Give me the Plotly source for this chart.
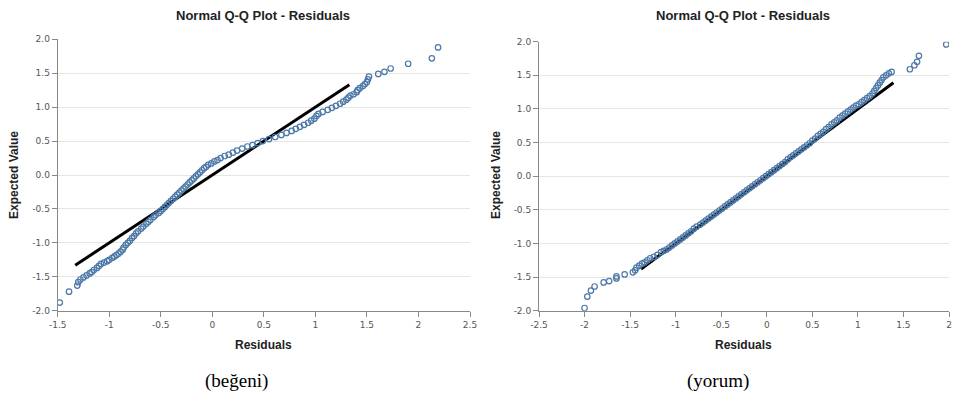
import plotly.graph_objects as go

# ---------------- data ----------------
left_resid = [-1.48, -1.39, -1.31, -1.30, -1.28, -1.25, -1.22, -1.19, -1.17, -1.15,
              -1.12, -1.10, -1.08, -1.05, -1.02, -1.00, -0.97, -0.95, -0.93, -0.91,
              -0.89, -0.87, -0.86, -0.84, -0.82, -0.80, -0.78, -0.76, -0.74, -0.72,
              -0.69, -0.67, -0.64, -0.62, -0.60, -0.57, -0.55, -0.52, -0.50, -0.48,
              -0.46, -0.44, -0.42, -0.40, -0.38, -0.36, -0.34, -0.32, -0.30, -0.28,
              -0.26, -0.24, -0.22, -0.20, -0.18, -0.16, -0.14, -0.12, -0.10, -0.08,
              -0.06, -0.04, -0.01, 0.02, 0.05, 0.08, 0.12, 0.16, 0.20, 0.24,
              0.29, 0.34, 0.39, 0.44, 0.49, 0.55, 0.61, 0.67, 0.72, 0.77,
              0.81, 0.85, 0.89, 0.93, 0.96, 0.99, 1.01, 1.03, 1.07, 1.12,
              1.16, 1.20, 1.24, 1.27, 1.30, 1.32, 1.34, 1.37, 1.40, 1.41,
              1.43, 1.46, 1.48, 1.50, 1.51, 1.52, 1.61, 1.67, 1.73, 1.90,
              2.13, 2.19]
left_expected = [-1.88, -1.72, -1.63, -1.58, -1.54, -1.51, -1.48, -1.45, -1.43, -1.40,
                 -1.37, -1.34, -1.31, -1.29, -1.27, -1.25, -1.22, -1.20, -1.18, -1.16,
                 -1.13, -1.10, -1.07, -1.03, -1.00, -0.97, -0.93, -0.90, -0.86, -0.83,
                 -0.79, -0.76, -0.72, -0.69, -0.66, -0.62, -0.59, -0.56, -0.53, -0.50,
                 -0.47, -0.44, -0.41, -0.38, -0.35, -0.32, -0.29, -0.26, -0.23, -0.20,
                 -0.17, -0.14, -0.11, -0.08, -0.05, -0.02, 0.01, 0.04, 0.07, 0.10,
                 0.12, 0.15, 0.17, 0.20, 0.22, 0.25, 0.28, 0.30, 0.33, 0.36,
                 0.39, 0.42, 0.44, 0.47, 0.50, 0.53, 0.56, 0.59, 0.62, 0.65,
                 0.68, 0.71, 0.74, 0.77, 0.80, 0.83, 0.87, 0.90, 0.93, 0.96,
                 0.99, 1.02, 1.05, 1.08, 1.11, 1.14, 1.17, 1.19, 1.22, 1.25,
                 1.28, 1.31, 1.34, 1.37, 1.41, 1.45, 1.49, 1.52, 1.57, 1.64,
                 1.72, 1.88]
left_ref_x = [-1.33, 1.33]
left_ref_y = [-1.33, 1.33]

right_resid = [-2.00, -1.97, -1.93, -1.89, -1.79, -1.73, -1.65, -1.65, -1.56, -1.47,
               -1.445, -1.43, -1.40, -1.37, -1.34, -1.31, -1.28, -1.24, -1.20, -1.16,
               -1.13, -1.10, -1.07, -1.04, -1.01, -0.98, -0.95, -0.92, -0.89, -0.86,
               -0.83, -0.80, -0.77, -0.73, -0.70, -0.67, -0.64, -0.61, -0.58, -0.55,
               -0.52, -0.49, -0.46, -0.43, -0.40, -0.37, -0.34, -0.31, -0.28, -0.25,
               -0.22, -0.19, -0.16, -0.13, -0.10, -0.07, -0.04, -0.01, 0.02, 0.05,
               0.08, 0.11, 0.14, 0.17, 0.20, 0.23, 0.26, 0.29, 0.32, 0.35,
               0.38, 0.41, 0.44, 0.47, 0.50, 0.53, 0.56, 0.59, 0.62, 0.65,
               0.68, 0.71, 0.74, 0.77, 0.80, 0.83, 0.86, 0.89, 0.92, 0.95,
               0.98, 1.01, 1.04, 1.07, 1.10, 1.13, 1.16, 1.18, 1.20, 1.22,
               1.24, 1.26, 1.28, 1.31, 1.34, 1.37, 1.57, 1.62, 1.65, 1.67,
               1.97]
right_expected = [-1.96, -1.79, -1.70, -1.64, -1.58, -1.56, -1.52, -1.49, -1.46, -1.43,
                  -1.40, -1.36, -1.33, -1.30, -1.28, -1.25, -1.22, -1.20, -1.17, -1.13,
                  -1.11, -1.09, -1.06, -1.03, -1.00, -0.97, -0.94, -0.91, -0.88, -0.85,
                  -0.82, -0.78, -0.75, -0.72, -0.69, -0.66, -0.63, -0.60, -0.57, -0.54,
                  -0.51, -0.48, -0.45, -0.42, -0.39, -0.36, -0.33, -0.30, -0.27, -0.24,
                  -0.21, -0.18, -0.15, -0.12, -0.09, -0.06, -0.03, 0.00, 0.03, 0.06,
                  0.09, 0.12, 0.15, 0.18, 0.21, 0.25, 0.28, 0.31, 0.34, 0.37,
                  0.40, 0.43, 0.46, 0.49, 0.53, 0.56, 0.60, 0.63, 0.66, 0.70,
                  0.73, 0.77, 0.80, 0.83, 0.87, 0.90, 0.93, 0.96, 0.99, 1.02,
                  1.05, 1.07, 1.10, 1.13, 1.16, 1.19, 1.23, 1.27, 1.31, 1.35,
                  1.39, 1.43, 1.47, 1.50, 1.53, 1.55, 1.59, 1.65, 1.70, 1.79,
                  1.96]
right_ref_x = [-1.38, 1.39]
right_ref_y = [-1.38, 1.39]

y_ticks = [-2.0, -1.5, -1.0, -0.5, 0.0, 0.5, 1.0, 1.5, 2.0]
y_tick_labels = ["-2.0", "-1.5", "-1.0", "-0.5", "0.0", "0.5", "1.0", "1.5", "2.0"]
left_x_ticks = [-1.5, -1, -0.5, 0, 0.5, 1, 1.5, 2, 2.5]
left_x_labels = ["-1.5", "-1", "-0.5", "0", "0.5", "1", "1.5", "2", "2.5"]
right_x_ticks = [-2.5, -2, -1.5, -1, -0.5, 0, 0.5, 1, 1.5, 2]
right_x_labels = ["-2.5", "-2", "-1.5", "-1", "-0.5", "0", "0.5", "1", "1.5", "2"]

title_text = "Normal Q-Q Plot - Residuals"
x_title = "Residuals"
y_title = "Expected Value"
captions = ["(beğeni)", "(yorum)"]

# ---------------- figure ----------------
W, H = 954, 395
PT_COLOR = "#4c78a8"
fig = go.Figure()

for (xs, ys, lx, ly, xa, ya) in [
    (left_resid, left_expected, left_ref_x, left_ref_y, "x", "y"),
    (right_resid, right_expected, right_ref_x, right_ref_y, "x2", "y2"),
]:
    fig.add_trace(go.Scatter(x=lx, y=ly, mode="lines", xaxis=xa, yaxis=ya,
                             line=dict(color="black", width=3), showlegend=False,
                             hoverinfo="skip"))
    fig.add_trace(go.Scatter(x=xs, y=ys, mode="markers", xaxis=xa, yaxis=ya,
                             marker=dict(symbol="circle-open", size=5.5, color=PT_COLOR,
                                         line=dict(width=1.2, color=PT_COLOR)),
                             showlegend=False))

def px_dom(a, b, total):
    return [a / total, b / total]

def py_dom(top, bottom):
    return [1 - bottom / H, 1 - top / H]

tick_font = dict(family="DejaVu Sans, Arial, sans-serif", size=9, color="#555555")
common_x = dict(showgrid=False, zeroline=False, showline=True, linecolor="#888888",
                linewidth=1, ticks="outside", ticklen=5, tickcolor="#888888",
                tickfont=tick_font, fixedrange=True, automargin=False)
common_y = dict(showgrid=True, gridcolor="#e6e6e6", gridwidth=1, zeroline=False,
                showline=True, linecolor="#888888", linewidth=1, ticks="outside",
                ticklen=5, tickcolor="#888888", tickfont=tick_font, fixedrange=True,
                automargin=False, range=[-2, 2], tickvals=y_ticks, ticktext=y_tick_labels)

fig.update_layout(
    width=W, height=H,
    margin=dict(l=0, r=0, t=0, b=0),
    paper_bgcolor="white", plot_bgcolor="white",
    xaxis=dict(domain=px_dom(57.7, 470, W), range=[-1.5, 2.5], anchor="y",
               tickvals=left_x_ticks, ticktext=left_x_labels, **common_x),
    yaxis=dict(domain=py_dom(39.3, 310.7), anchor="x", **common_y),
    xaxis2=dict(domain=px_dom(539, 949, W), range=[-2.5, 2], anchor="y2",
                tickvals=right_x_ticks, ticktext=right_x_labels, **common_x),
    yaxis2=dict(domain=py_dom(41.7, 310.7), anchor="x2", **common_y),
)

bold = dict(family="Liberation Sans, Arial, sans-serif", color="#222222")
ann = []
for cx, ylab_x in [(263, 14), (743, 496)]:
    ann.append(dict(text="<b>" + title_text + "</b>", x=cx / W, y=1 - 16 / H,
                    xref="paper", yref="paper", showarrow=False,
                    font=dict(size=13, **bold), xanchor="center", yanchor="middle"))
    ann.append(dict(text="<b>" + x_title + "</b>", x=cx / W, y=1 - 345 / H,
                    xref="paper", yref="paper", showarrow=False,
                    font=dict(size=12, **bold), xanchor="center", yanchor="middle"))
    ann.append(dict(text="<b>" + y_title + "</b>", x=ylab_x / W, y=1 - 175 / H,
                    xref="paper", yref="paper", showarrow=False, textangle=-90,
                    font=dict(size=12, **bold), xanchor="center", yanchor="middle"))
for cap, cx in zip(captions, [236, 718]):
    ann.append(dict(text=cap, x=cx / W, y=1 - 381 / H, xref="paper", yref="paper",
                    showarrow=False, xanchor="center", yanchor="middle",
                    font=dict(family="Liberation Serif, Times New Roman, serif",
                              size=19, color="black")))
fig.update_layout(annotations=ann)

fig.write_html("out.html", config={"displayModeBar": False},
               post_script="document.body.style.margin='0';")
